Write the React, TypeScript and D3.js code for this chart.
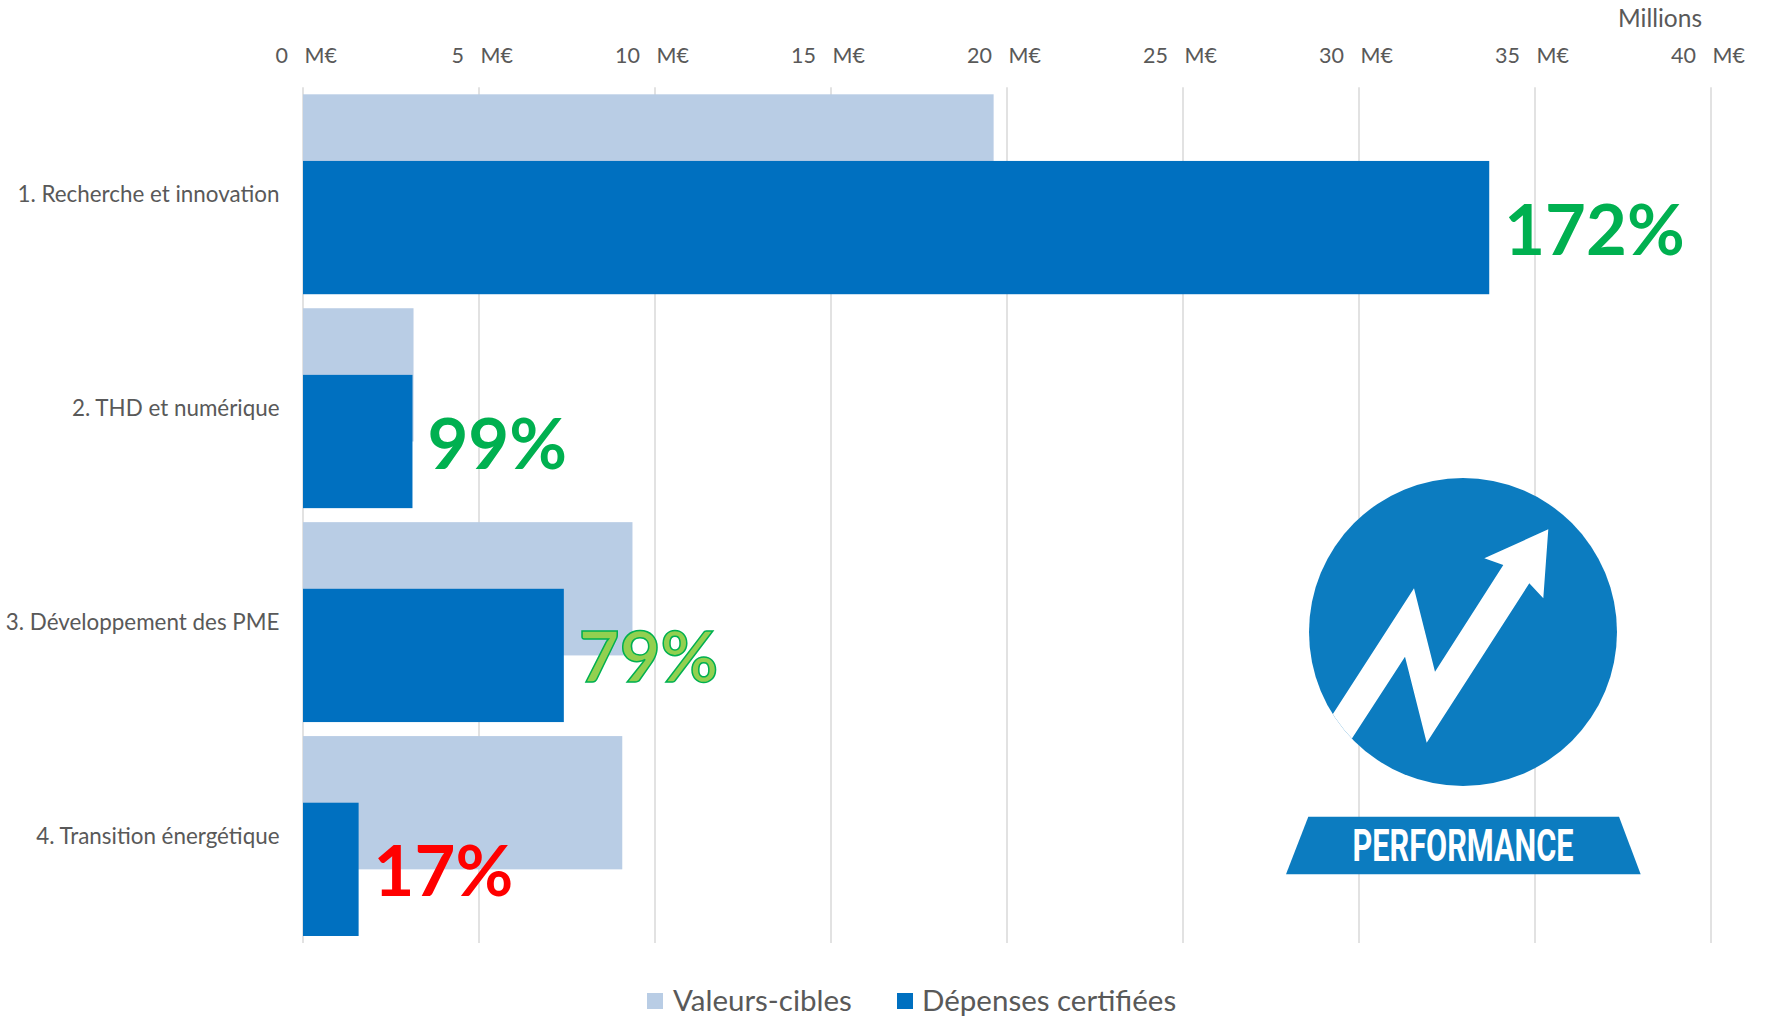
import React from 'react';
import * as d3 from 'd3';

// ---- Data ----
const categories = [
  '1. Recherche et innovation',
  '2. THD et numérique',
  '3. Développement des PME',
  '4. Transition énergétique',
];
const targetValues = [19.62, 3.14, 9.36, 9.07]; // Valeurs-cibles (M€)
const certifiedValues = [33.7, 3.11, 7.41, 1.58]; // Dépenses certifiées (M€)
const rateLabels = ['172%', '99%', '79%', '17%'];
const xTicks = [0, 5, 10, 15, 20, 25, 30, 35, 40];
const tickUnit = 'M€';
const seriesNames = ['Valeurs-cibles', 'Dépenses certifiées'];
const axisUnitTitle = 'Millions';
const logoText = 'PERFORMANCE';

// ---- Styles ----
const W = 1770;
const H = 1016;
const LIGHT = '#B9CDE5';
const DARK = '#0070C0';
const LOGO = '#0C7CC0';
const GRID = '#D9D9D9';
const TEXT = '#595959';
const FONT = 'Lato, "Open Sans", sans-serif';
const rateFill = ['#00B050', '#00B050', '#92D050', '#FF0000'];
const rateStroke = ['none', 'none', '#00B050', 'none'];

export default function App() {
  const margin = { left: 303, right: W - 1711, top: 87.3, bottom: H - 943 };
  const x = d3.scaleLinear().domain([0, 40]).range([margin.left, W - margin.right]);
  const pad = 0.0655;
  const y = d3
    .scaleBand<string>()
    .domain(categories)
    .range([margin.top, H - margin.bottom])
    .paddingInner(pad)
    .paddingOuter(pad / 2);
  const bw = y.bandwidth();
  const barH = bw / 1.5;

  // logo geometry (decoration)
  const cx = 1463;
  const cy = 632;
  const r = 154;
  const zig: [number, number][] = [
    [1309, 751],
    [1414, 588.3],
    [1435, 671.7],
    [1503.3, 565],
    [1484.3, 558.3],
    [1548.3, 529.3],
    [1543.3, 598.3],
    [1529.3, 583.3],
    [1426.7, 742.7],
    [1405, 656.7],
    [1328.7, 774.3],
  ];
  const banner: [number, number][] = [
    [1308.3, 816.7],
    [1619, 816.7],
    [1640.7, 874.3],
    [1286, 874.3],
  ];
  const line = d3.line();

  return (
    <svg
      width={W}
      height={H}
      style={{ position: 'absolute', left: 0, top: 0, display: 'block', background: '#fff' }}
      fontFamily={FONT}
    >
      <defs>
        <clipPath id="logoClip">
          <circle cx={cx} cy={cy} r={r} />
        </clipPath>
      </defs>
      <rect x={0} y={0} width={W} height={H} fill="#fff" />

      {/* gridlines */}
      {xTicks.map((t) => (
        <line
          key={'g' + t}
          x1={x(t)}
          x2={x(t)}
          y1={margin.top}
          y2={H - margin.bottom}
          stroke={GRID}
          strokeWidth={1.5}
        />
      ))}

      {/* tick labels */}
      {xTicks.map((t) => (
        <g key={'t' + t} fill={TEXT} fontSize={21.5}>
          <text x={x(t) - 15} y={62.7} textAnchor="end">
            {t}
          </text>
          <text x={x(t) + 1.5} y={62.7} textAnchor="start">
            {tickUnit}
          </text>
        </g>
      ))}
      <text x={1702} y={26.7} textAnchor="end" fill={TEXT} fontSize={24.5}>
        {axisUnitTitle}
      </text>

      {/* category labels */}
      {categories.map((c) => (
        <text
          key={'c' + c}
          x={279.5}
          y={(y(c) as number) + bw / 2 + 7.5}
          textAnchor="end"
          fill={TEXT}
          fontSize={22.4}
        >
          {c}
        </text>
      ))}

      {/* logo */}
      <g>
        <circle cx={cx} cy={cy} r={r} fill={LOGO} />
        <path d={line(zig) + 'Z'} fill="#fff" clipPath="url(#logoClip)" />
        <path d={line(banner) + 'Z'} fill={LOGO} />
        <text
          x={cx}
          y={860.7}
          textAnchor="middle"
          fill="#fff"
          fontFamily="Roboto, 'DejaVu Sans', sans-serif"
          fontWeight={700}
          fontSize={44}
          textLength={221}
          lengthAdjust="spacingAndGlyphs"
        >
          {logoText}
        </text>
      </g>

      {/* target bars */}
      {categories.map((c, i) => (
        <rect
          key={'l' + c}
          x={x(0)}
          y={y(c) as number}
          width={x(targetValues[i]) - x(0)}
          height={barH}
          fill={LIGHT}
        />
      ))}
      {/* certified bars */}
      {categories.map((c, i) => (
        <rect
          key={'d' + c}
          x={x(0)}
          y={(y(c) as number) + bw / 3}
          width={x(certifiedValues[i]) - x(0)}
          height={barH}
          fill={DARK}
        />
      ))}

      {/* rate labels */}
      {categories.map((c, i) => (
        <text
          key={'r' + c}
          x={x(certifiedValues[i]) + 15}
          y={(y(c) as number) + bw / 3 + barH / 2 + 27}
          fill={rateFill[i]}
          stroke={rateStroke[i]}
          strokeWidth={rateStroke[i] === 'none' ? 0 : 1.5}
          fontWeight={700}
          fontSize={70.5}
        >
          {rateLabels[i]}
        </text>
      ))}

      {/* legend */}
      <g fontSize={29.5} fill={TEXT}>
        <rect x={647} y={993} width={16} height={16} fill={LIGHT} />
        <text x={673} y={1011}>
          {seriesNames[0]}
        </text>
        <rect x={897} y={993} width={16} height={16} fill={DARK} />
        <text x={922} y={1011}>
          {seriesNames[1]}
        </text>
      </g>
    </svg>
  );
}
